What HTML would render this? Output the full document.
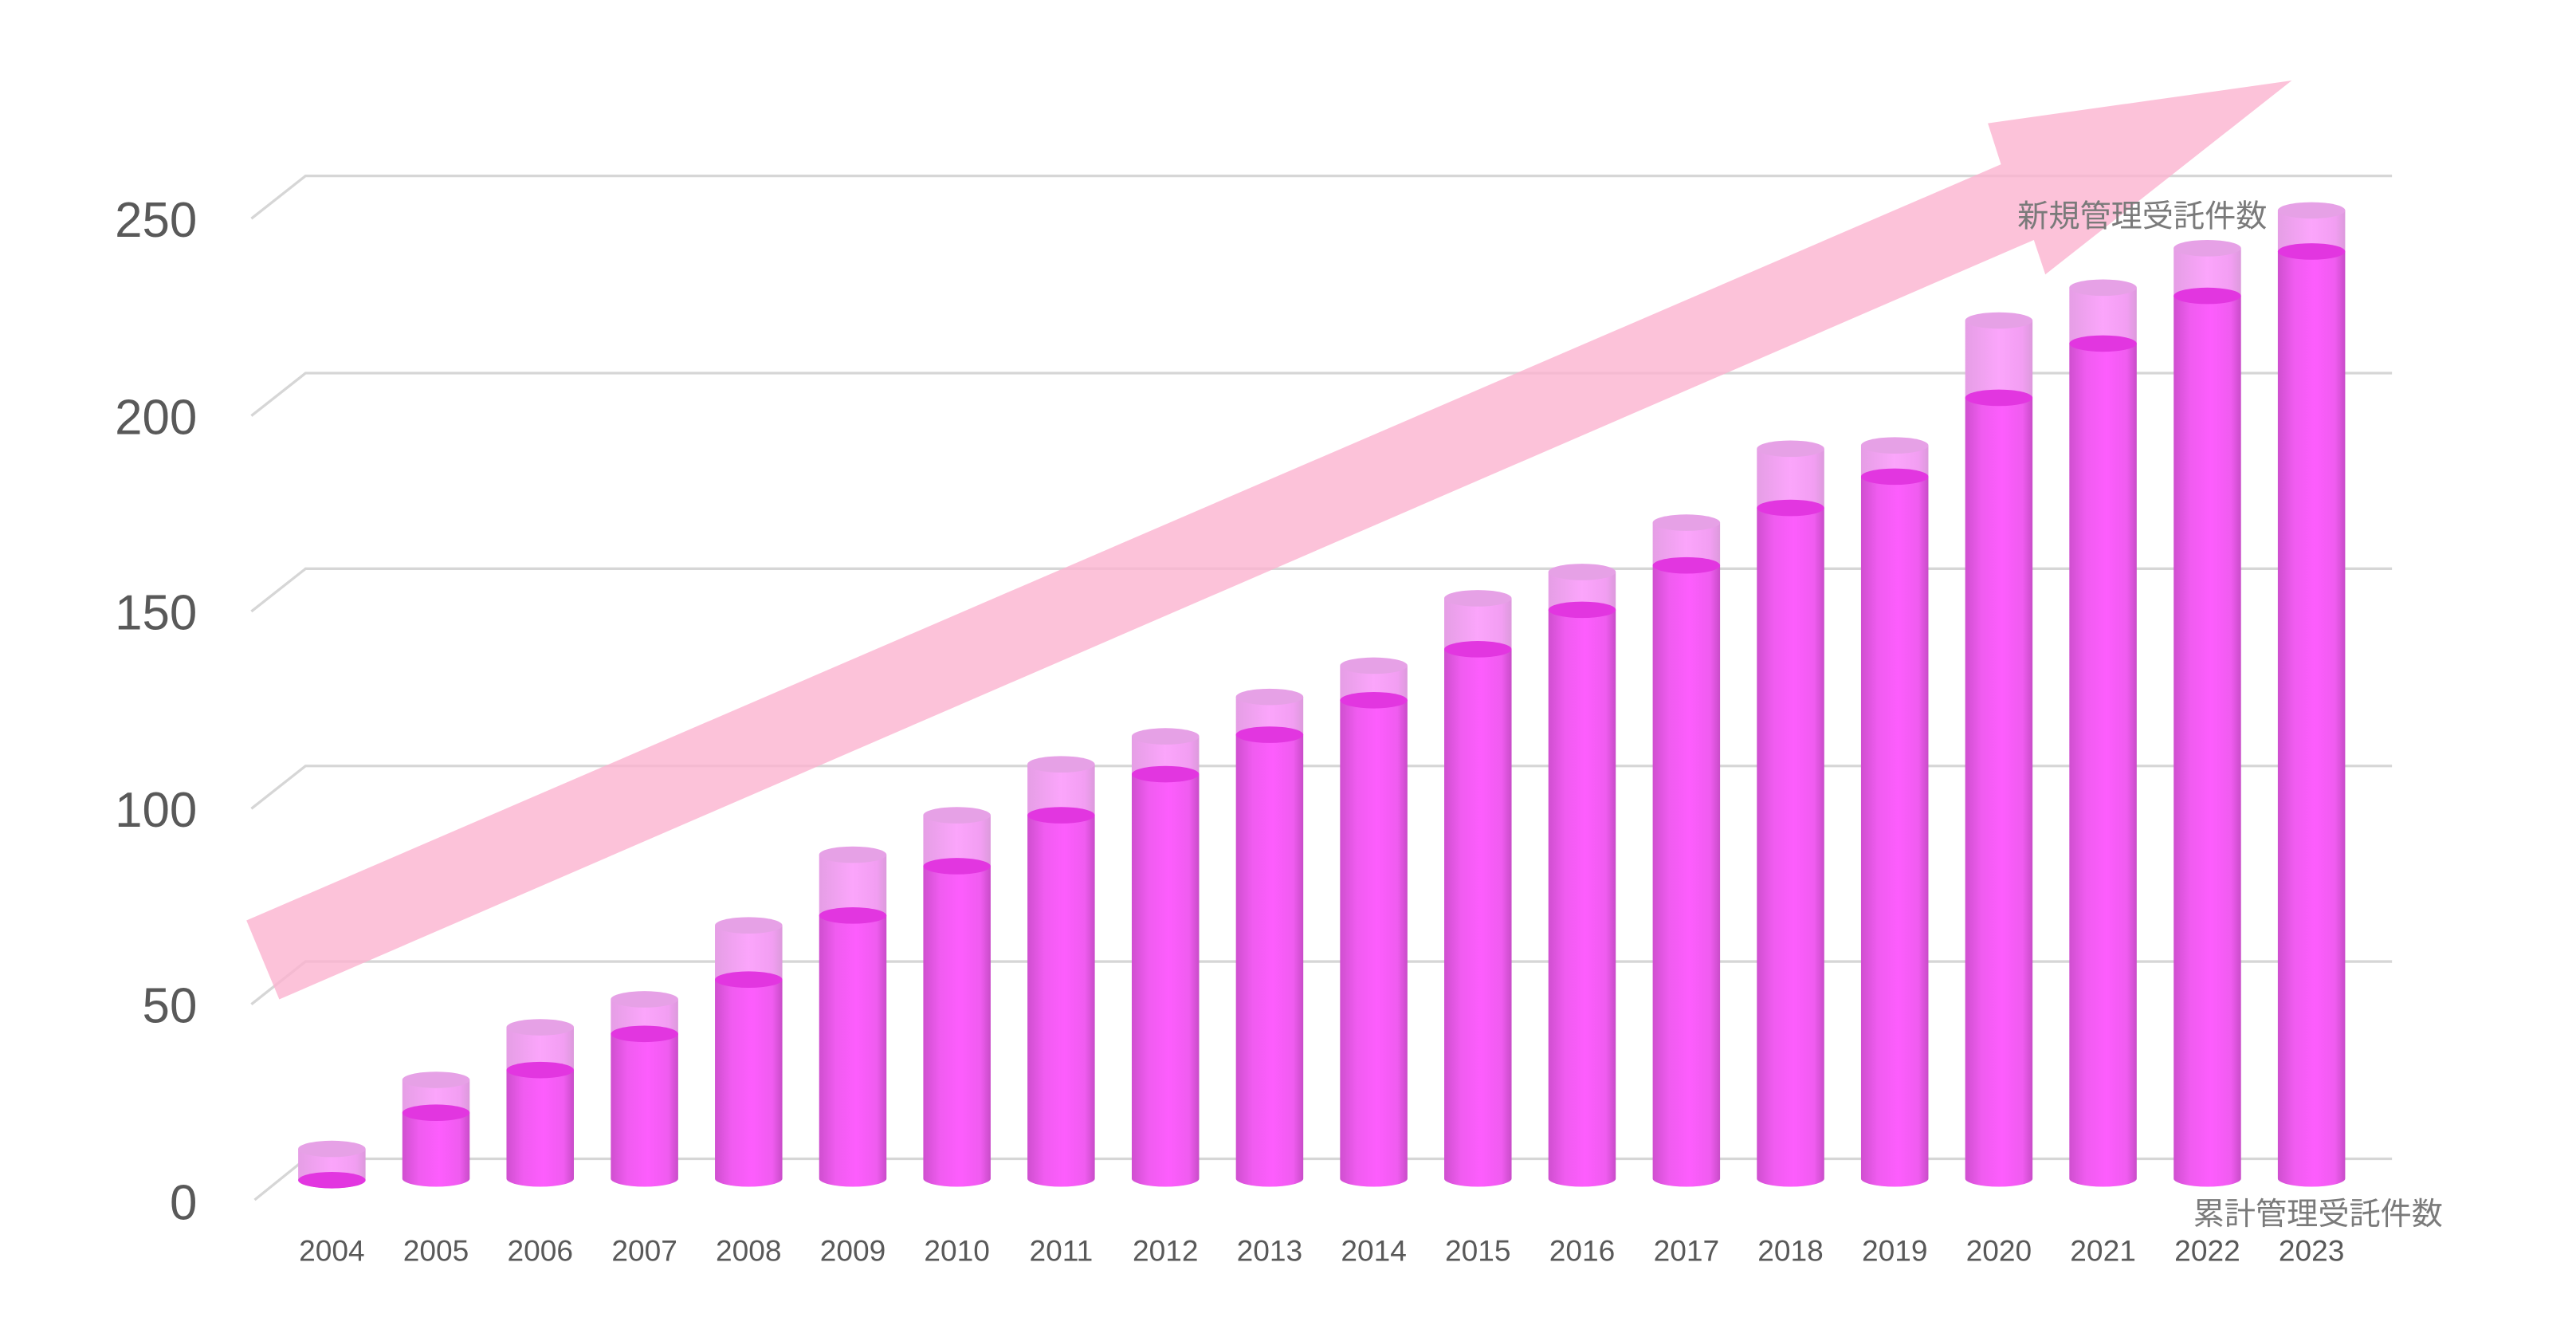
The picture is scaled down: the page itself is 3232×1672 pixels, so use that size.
<!DOCTYPE html>
<html><head><meta charset="utf-8"><style>
html,body{margin:0;padding:0;background:#fff;}
svg{display:block;}
text{font-family:"Liberation Sans","Noto Sans CJK JP",sans-serif;}
</style></head><body>
<svg width="3232" height="1672" viewBox="0 0 1568 811" preserveAspectRatio="none" xmlns="http://www.w3.org/2000/svg">
<defs>
<linearGradient id="dk" x1="0" x2="1" y1="0" y2="0">
<stop offset="0" stop-color="#cf4fcf"/><stop offset="0.25" stop-color="#f05cf0"/><stop offset="0.55" stop-color="#fd5dfd"/><stop offset="0.85" stop-color="#f05cf0"/><stop offset="1" stop-color="#c84cc8"/>
</linearGradient>
<linearGradient id="lt" x1="0" x2="1" y1="0" y2="0">
<stop offset="0" stop-color="#e59ee5"/><stop offset="0.5" stop-color="#fba5fb"/><stop offset="0.85" stop-color="#f29ef2"/><stop offset="1" stop-color="#dc9adc"/>
</linearGradient>
</defs>
<g stroke="#d6d6d6" stroke-width="1.6" fill="none">
<path d="M153,133 L186,107 H1456"/>
<path d="M153,253 L186,227 H1456"/>
<path d="M153,372 L186,346 H1456"/>
<path d="M153,492 L186,466 H1456"/>
<path d="M153,611 L186,585 H1456"/>
<path d="M155,730 L186,705 H1456"/>
</g>
<polygon points="150,560 1218,100 1210,75 1395,49 1245,167 1238,146 170,608" fill="#fbb3cf" fill-opacity="0.8"/>
<g fill="#595959" font-size="30" text-anchor="end">
<text x="120" y="144">250</text><text x="120" y="264">200</text><text x="120" y="383">150</text>
<text x="120" y="503">100</text><text x="120" y="622">50</text><text x="120" y="742">0</text>
</g>
<g transform="translate(202,0)"><path d="M-20.5,699 V718 A20.5,5 0 0 0 20.5,718 V699 Z" fill="url(#lt)"/><ellipse cy="699" rx="20.5" ry="5" fill="#e6a1e6"/><ellipse cy="718" rx="20.5" ry="5" fill="#e236e0"/></g>
<g transform="translate(265.4,0)"><path d="M-20.5,657 V677 A20.5,5 0 0 0 20.5,677 V657 Z" fill="url(#lt)"/><ellipse cy="657" rx="20.5" ry="5" fill="#e6a1e6"/><path d="M-20.5,677 V717 A20.5,5 0 0 0 20.5,717 V677 Z" fill="url(#dk)"/><ellipse cy="677" rx="20.5" ry="5" fill="#e236e0"/></g>
<g transform="translate(328.8,0)"><path d="M-20.5,625 V651 A20.5,5 0 0 0 20.5,651 V625 Z" fill="url(#lt)"/><ellipse cy="625" rx="20.5" ry="5" fill="#e6a1e6"/><path d="M-20.5,651 V717 A20.5,5 0 0 0 20.5,717 V651 Z" fill="url(#dk)"/><ellipse cy="651" rx="20.5" ry="5" fill="#e236e0"/></g>
<g transform="translate(392.3,0)"><path d="M-20.5,608 V629 A20.5,5 0 0 0 20.5,629 V608 Z" fill="url(#lt)"/><ellipse cy="608" rx="20.5" ry="5" fill="#e6a1e6"/><path d="M-20.5,629 V717 A20.5,5 0 0 0 20.5,717 V629 Z" fill="url(#dk)"/><ellipse cy="629" rx="20.5" ry="5" fill="#e236e0"/></g>
<g transform="translate(455.7,0)"><path d="M-20.5,563 V596 A20.5,5 0 0 0 20.5,596 V563 Z" fill="url(#lt)"/><ellipse cy="563" rx="20.5" ry="5" fill="#e6a1e6"/><path d="M-20.5,596 V717 A20.5,5 0 0 0 20.5,717 V596 Z" fill="url(#dk)"/><ellipse cy="596" rx="20.5" ry="5" fill="#e236e0"/></g>
<g transform="translate(519.1,0)"><path d="M-20.5,520 V557 A20.5,5 0 0 0 20.5,557 V520 Z" fill="url(#lt)"/><ellipse cy="520" rx="20.5" ry="5" fill="#e6a1e6"/><path d="M-20.5,557 V717 A20.5,5 0 0 0 20.5,717 V557 Z" fill="url(#dk)"/><ellipse cy="557" rx="20.5" ry="5" fill="#e236e0"/></g>
<g transform="translate(582.5,0)"><path d="M-20.5,496 V527 A20.5,5 0 0 0 20.5,527 V496 Z" fill="url(#lt)"/><ellipse cy="496" rx="20.5" ry="5" fill="#e6a1e6"/><path d="M-20.5,527 V717 A20.5,5 0 0 0 20.5,717 V527 Z" fill="url(#dk)"/><ellipse cy="527" rx="20.5" ry="5" fill="#e236e0"/></g>
<g transform="translate(645.9,0)"><path d="M-20.5,465 V496 A20.5,5 0 0 0 20.5,496 V465 Z" fill="url(#lt)"/><ellipse cy="465" rx="20.5" ry="5" fill="#e6a1e6"/><path d="M-20.5,496 V717 A20.5,5 0 0 0 20.5,717 V496 Z" fill="url(#dk)"/><ellipse cy="496" rx="20.5" ry="5" fill="#e236e0"/></g>
<g transform="translate(709.4,0)"><path d="M-20.5,448 V471 A20.5,5 0 0 0 20.5,471 V448 Z" fill="url(#lt)"/><ellipse cy="448" rx="20.5" ry="5" fill="#e6a1e6"/><path d="M-20.5,471 V717 A20.5,5 0 0 0 20.5,717 V471 Z" fill="url(#dk)"/><ellipse cy="471" rx="20.5" ry="5" fill="#e236e0"/></g>
<g transform="translate(772.8,0)"><path d="M-20.5,424 V447 A20.5,5 0 0 0 20.5,447 V424 Z" fill="url(#lt)"/><ellipse cy="424" rx="20.5" ry="5" fill="#e6a1e6"/><path d="M-20.5,447 V717 A20.5,5 0 0 0 20.5,717 V447 Z" fill="url(#dk)"/><ellipse cy="447" rx="20.5" ry="5" fill="#e236e0"/></g>
<g transform="translate(836.2,0)"><path d="M-20.5,405 V426 A20.5,5 0 0 0 20.5,426 V405 Z" fill="url(#lt)"/><ellipse cy="405" rx="20.5" ry="5" fill="#e6a1e6"/><path d="M-20.5,426 V717 A20.5,5 0 0 0 20.5,717 V426 Z" fill="url(#dk)"/><ellipse cy="426" rx="20.5" ry="5" fill="#e236e0"/></g>
<g transform="translate(899.6,0)"><path d="M-20.5,364 V395 A20.5,5 0 0 0 20.5,395 V364 Z" fill="url(#lt)"/><ellipse cy="364" rx="20.5" ry="5" fill="#e6a1e6"/><path d="M-20.5,395 V717 A20.5,5 0 0 0 20.5,717 V395 Z" fill="url(#dk)"/><ellipse cy="395" rx="20.5" ry="5" fill="#e236e0"/></g>
<g transform="translate(963,0)"><path d="M-20.5,348 V371 A20.5,5 0 0 0 20.5,371 V348 Z" fill="url(#lt)"/><ellipse cy="348" rx="20.5" ry="5" fill="#e6a1e6"/><path d="M-20.5,371 V717 A20.5,5 0 0 0 20.5,717 V371 Z" fill="url(#dk)"/><ellipse cy="371" rx="20.5" ry="5" fill="#e236e0"/></g>
<g transform="translate(1026.5,0)"><path d="M-20.5,318 V344 A20.5,5 0 0 0 20.5,344 V318 Z" fill="url(#lt)"/><ellipse cy="318" rx="20.5" ry="5" fill="#e6a1e6"/><path d="M-20.5,344 V717 A20.5,5 0 0 0 20.5,717 V344 Z" fill="url(#dk)"/><ellipse cy="344" rx="20.5" ry="5" fill="#e236e0"/></g>
<g transform="translate(1089.9,0)"><path d="M-20.5,273 V309 A20.5,5 0 0 0 20.5,309 V273 Z" fill="url(#lt)"/><ellipse cy="273" rx="20.5" ry="5" fill="#e6a1e6"/><path d="M-20.5,309 V717 A20.5,5 0 0 0 20.5,717 V309 Z" fill="url(#dk)"/><ellipse cy="309" rx="20.5" ry="5" fill="#e236e0"/></g>
<g transform="translate(1153.3,0)"><path d="M-20.5,271 V290 A20.5,5 0 0 0 20.5,290 V271 Z" fill="url(#lt)"/><ellipse cy="271" rx="20.5" ry="5" fill="#e6a1e6"/><path d="M-20.5,290 V717 A20.5,5 0 0 0 20.5,717 V290 Z" fill="url(#dk)"/><ellipse cy="290" rx="20.5" ry="5" fill="#e236e0"/></g>
<g transform="translate(1216.7,0)"><path d="M-20.5,195 V242 A20.5,5 0 0 0 20.5,242 V195 Z" fill="url(#lt)"/><ellipse cy="195" rx="20.5" ry="5" fill="#e6a1e6"/><path d="M-20.5,242 V717 A20.5,5 0 0 0 20.5,717 V242 Z" fill="url(#dk)"/><ellipse cy="242" rx="20.5" ry="5" fill="#e236e0"/></g>
<g transform="translate(1280.1,0)"><path d="M-20.5,175 V209 A20.5,5 0 0 0 20.5,209 V175 Z" fill="url(#lt)"/><ellipse cy="175" rx="20.5" ry="5" fill="#e6a1e6"/><path d="M-20.5,209 V717 A20.5,5 0 0 0 20.5,717 V209 Z" fill="url(#dk)"/><ellipse cy="209" rx="20.5" ry="5" fill="#e236e0"/></g>
<g transform="translate(1343.6,0)"><path d="M-20.5,151 V180 A20.5,5 0 0 0 20.5,180 V151 Z" fill="url(#lt)"/><ellipse cy="151" rx="20.5" ry="5" fill="#e6a1e6"/><path d="M-20.5,180 V717 A20.5,5 0 0 0 20.5,717 V180 Z" fill="url(#dk)"/><ellipse cy="180" rx="20.5" ry="5" fill="#e236e0"/></g>
<g transform="translate(1407,0)"><path d="M-20.5,128 V153 A20.5,5 0 0 0 20.5,153 V128 Z" fill="url(#lt)"/><ellipse cy="128" rx="20.5" ry="5" fill="#e6a1e6"/><path d="M-20.5,153 V717 A20.5,5 0 0 0 20.5,717 V153 Z" fill="url(#dk)"/><ellipse cy="153" rx="20.5" ry="5" fill="#e236e0"/></g>
<text x="1228" y="138" font-size="19" fill="#7a7a7a">新規管理受託件数</text>
<text x="1335" y="745" font-size="19" fill="#7a7a7a">累計管理受託件数</text>
<g fill="#595959" font-size="18" text-anchor="middle">
<text x="202" y="767">2004</text><text x="265.4" y="767">2005</text><text x="328.8" y="767">2006</text><text x="392.3" y="767">2007</text><text x="455.7" y="767">2008</text>
<text x="519.1" y="767">2009</text><text x="582.5" y="767">2010</text><text x="645.9" y="767">2011</text><text x="709.4" y="767">2012</text><text x="772.8" y="767">2013</text>
<text x="836.2" y="767">2014</text><text x="899.6" y="767">2015</text><text x="963" y="767">2016</text><text x="1026.5" y="767">2017</text><text x="1089.9" y="767">2018</text>
<text x="1153.3" y="767">2019</text><text x="1216.7" y="767">2020</text><text x="1280.1" y="767">2021</text><text x="1343.6" y="767">2022</text><text x="1407" y="767">2023</text>
</g>
</svg>
</body></html>
